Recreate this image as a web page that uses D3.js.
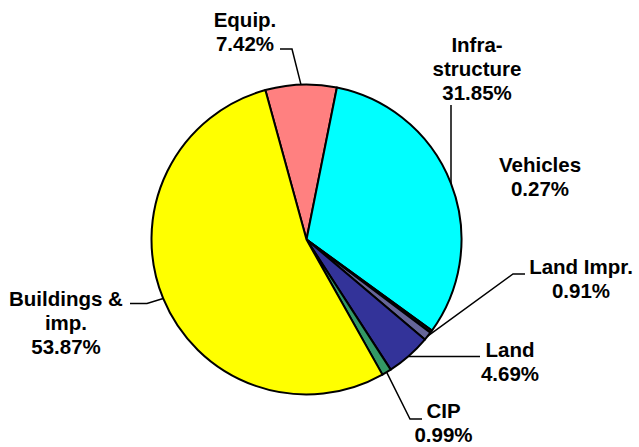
<!DOCTYPE html>
<html>
<head>
<meta charset="utf-8">
<script src="https://cdn.jsdelivr.net/npm/d3@7"></script>
<style>
  html, body { margin: 0; padding: 0; background: #fff; }
  svg text { font-family: "Liberation Sans", Arial, sans-serif; font-weight: bold; font-size: 20.5px; fill: #000; }
</style>
</head>
<body>
<svg id="chart" width="639" height="447"></svg>
<script>
// ---- data ----
const categories = ["Equip.", "Infra-structure", "Vehicles", "Land Impr.", "Land", "CIP", "Buildings & imp."];
const values     = [7.42, 31.85, 0.27, 0.91, 4.69, 0.99, 53.87];
const valueLabels = ["7.42%", "31.85%", "0.27%", "0.91%", "4.69%", "0.99%", "53.87%"];
const labelLines = [["Equip."], ["Infra-", "structure"], ["Vehicles"], ["Land Impr."], ["Land"], ["CIP"], ["Buildings &", "imp."]];
const colors = ["#FF8080", "#00FFFF", "#1a1a1a", "#666699", "#333399", "#339966", "#FFFF00"];

// ---- layout (label anchors and leader elbows) ----
const cx = 306.5, cy = 239.5, R = 155;
const labelPos = [
  {x: 245, y: 27,  elbow: [[292, 49], [280, 49]]},
  {x: 477, y: 51.5, elbow: [[451, 105]], vertical: true},
  {x: 540, y: 171.5, elbow: null},
  {x: 581, y: 274, elbow: [[513, 274], [525, 274]]},
  {x: 510, y: 356.5, elbow: [[480, 356.5]], horizontal: true},
  {x: 443.5, y: 418, elbow: [[410, 419], [422, 419]]},
  {x: 66, y: 305.5, elbow: [[147, 303.5], [130, 303.5]]}
];
const lineH = 24;

const svg = d3.select("#chart");
const g = svg.append("g").attr("transform", `translate(${cx},${cy})`);

const start = -15.4 * Math.PI / 180;
const pie = d3.pie().sort(null).value(d => d).startAngle(start).endAngle(start + 2 * Math.PI);
const arcs = pie(values);
const arc = d3.arc().innerRadius(0).outerRadius(R);

g.selectAll("path.slice").data(arcs).enter().append("path")
  .attr("class", "slice")
  .attr("d", arc)
  .attr("fill", (d, i) => colors[i])
  .attr("stroke", "#000")
  .attr("stroke-width", 2)
  .attr("stroke-linejoin", "round");

// leader lines
arcs.forEach((d, i) => {
  const lp = labelPos[i];
  if (!lp.elbow) return;
  const mid = (d.startAngle + d.endAngle) / 2;
  let ex = cx + R * Math.sin(mid), ey = cy - R * Math.cos(mid);
  const pts = [];
  if (lp.vertical) { pts.push([lp.elbow[0][0], ey]); }
  else if (lp.horizontal) { pts.push([ex, lp.elbow[0][1]]); }
  else pts.push([ex, ey]);
  lp.elbow.forEach(p => pts.push(p));
  svg.append("path")
    .attr("d", d3.line()(pts))
    .attr("fill", "none")
    .attr("stroke", "#000")
    .attr("stroke-width", 1.5);
});

// labels
arcs.forEach((d, i) => {
  const lp = labelPos[i];
  const t = svg.append("text").attr("text-anchor", "middle");
  const lines = labelLines[i].concat([valueLabels[i]]);
  lines.forEach((s, k) => {
    t.append("tspan").attr("x", lp.x).attr("y", lp.y + k * lineH).text(s);
  });
});
</script>
</body>
</html>
